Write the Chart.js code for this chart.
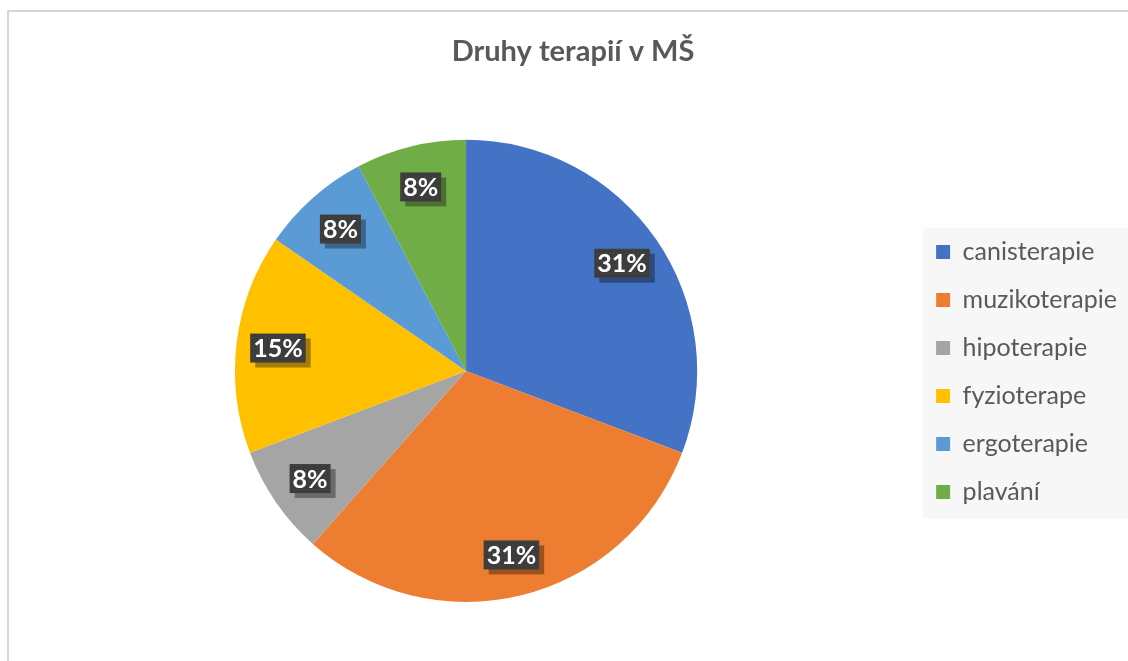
<!DOCTYPE html>
<html lang="cs">
<head>
  <meta charset="UTF-8">
  <title>Druhy terapií v MŠ</title>
  <script src="https://cdn.jsdelivr.net/npm/chart.js"></script>
  <style>
    body {
      margin: 0;
      background: #fff;
    }

    .wrap {
      position: relative;
      width: 1128px;
      height: 661px;
    }

    .frame {
      position: absolute;
      left: 7px;
      top: 10px;
      right: 0;
      bottom: 0;
      border-top: 2px solid #d6d6d6;
      border-left: 2px solid #d6d6d6;
      pointer-events: none;
    }
  </style>
</head>
<body>
  <div class="wrap">
    <canvas id="pieChart" width="1128" height="661"></canvas>
    <div class="frame"></div>
  </div>

  <script>
    const therapies = ['canisterapie', 'muzikoterapie', 'hipoterapie', 'fyzioterape', 'ergoterapie', 'plavání'];
    const counts = [4, 4, 1, 2, 1, 1];
    const sliceColors = ['#4472C4', '#ED7D31', '#A5A5A5', '#FFC000', '#5B9BD5', '#70AD47'];

    Chart.defaults.font.family = 'Lato';

    // dotted dark fill for the data label boxes
    const dot = document.createElement('canvas');
    dot.width = 4;
    dot.height = 4;
    const dctx = dot.getContext('2d');
    dctx.fillStyle = '#3c3c3c';
    dctx.fillRect(0, 0, 4, 4);
    dctx.fillStyle = '#4e4e4e';
    dctx.fillRect(1, 1, 1, 1);

    const legendBackground = {
      id: 'legendBackground',
      beforeDraw(chart) {
        const boxes = chart.legend.legendHitBoxes;
        if (!boxes || !boxes.length) return;
        const first = boxes[0];
        const last = boxes[boxes.length - 1];
        const ctx = chart.ctx;
        ctx.save();
        ctx.fillStyle = '#f7f7f7';
        ctx.fillRect(first.left - 13, first.top - 12, chart.legend.right + 1 - (first.left - 13), last.top + last.height + 14 - (first.top - 12));
        ctx.restore();
      }
    };

    const sliceLabels = {
      id: 'sliceLabels',
      afterDatasetsDraw(chart) {
        const ctx = chart.ctx;
        const data = chart.data.datasets[0].data;
        const total = data.reduce((a, b) => a + b, 0);
        ctx.save();
        ctx.font = 'bold 25px Lato';
        ctx.textAlign = 'center';
        ctx.textBaseline = 'middle';
        chart.getDatasetMeta(0).data.forEach((arc, i) => {
          const p = arc.getProps(['x', 'y', 'startAngle', 'endAngle', 'outerRadius'], true);
          const mid = (p.startAngle + p.endAngle) / 2;
          const r = p.outerRadius * 0.82;
          const cx = p.x + Math.cos(mid) * r;
          const cy = p.y + Math.sin(mid) * r;
          const text = Math.round(data[i] / total * 100) + '%';
          const w = ctx.measureText(text).width + 6;
          const h = 29;
          ctx.fillStyle = 'rgba(0, 0, 0, 0.35)';
          ctx.fillRect(cx - w / 2 + 5, cy - h / 2 + 5, w, h);
          ctx.fillStyle = ctx.createPattern(dot, 'repeat');
          ctx.fillRect(cx - w / 2, cy - h / 2, w, h);
          ctx.fillStyle = '#ffffff';
          ctx.fillText(text, cx, cy + 1);
        });
        ctx.restore();
      }
    };

    const ctx = document.getElementById('pieChart').getContext('2d');
    const pieChart = new Chart(ctx, {
      type: 'pie',
      data: {
        labels: therapies,
        datasets: [{
          data: counts,
          backgroundColor: sliceColors,
          borderWidth: 0
        }]
      },
      options: {
        responsive: false,
        animation: false,
        layout: {
          padding: { left: 19, right: 1, top: 0, bottom: 59 }
        },
        plugins: {
          title: {
            display: true,
            text: 'Druhy terapií v MŠ',
            color: '#595959',
            font: { size: 29, weight: 'bold' },
            padding: { top: 34, bottom: 71 }
          },
          legend: {
            display: true,
            position: 'right',
            align: 'center',
            title: {
              display: true,
              text: '',
              font: { size: 12, lineHeight: 1 },
              padding: { top: 0, bottom: 130 }
            },
            labels: {
              color: '#595959',
              font: { size: 25 },
              boxWidth: 14,
              boxHeight: 14,
              padding: 23
            }
          },
          tooltip: { enabled: false }
        }
      },
      plugins: [legendBackground, sliceLabels]
    });
  </script>
</body>
</html>
